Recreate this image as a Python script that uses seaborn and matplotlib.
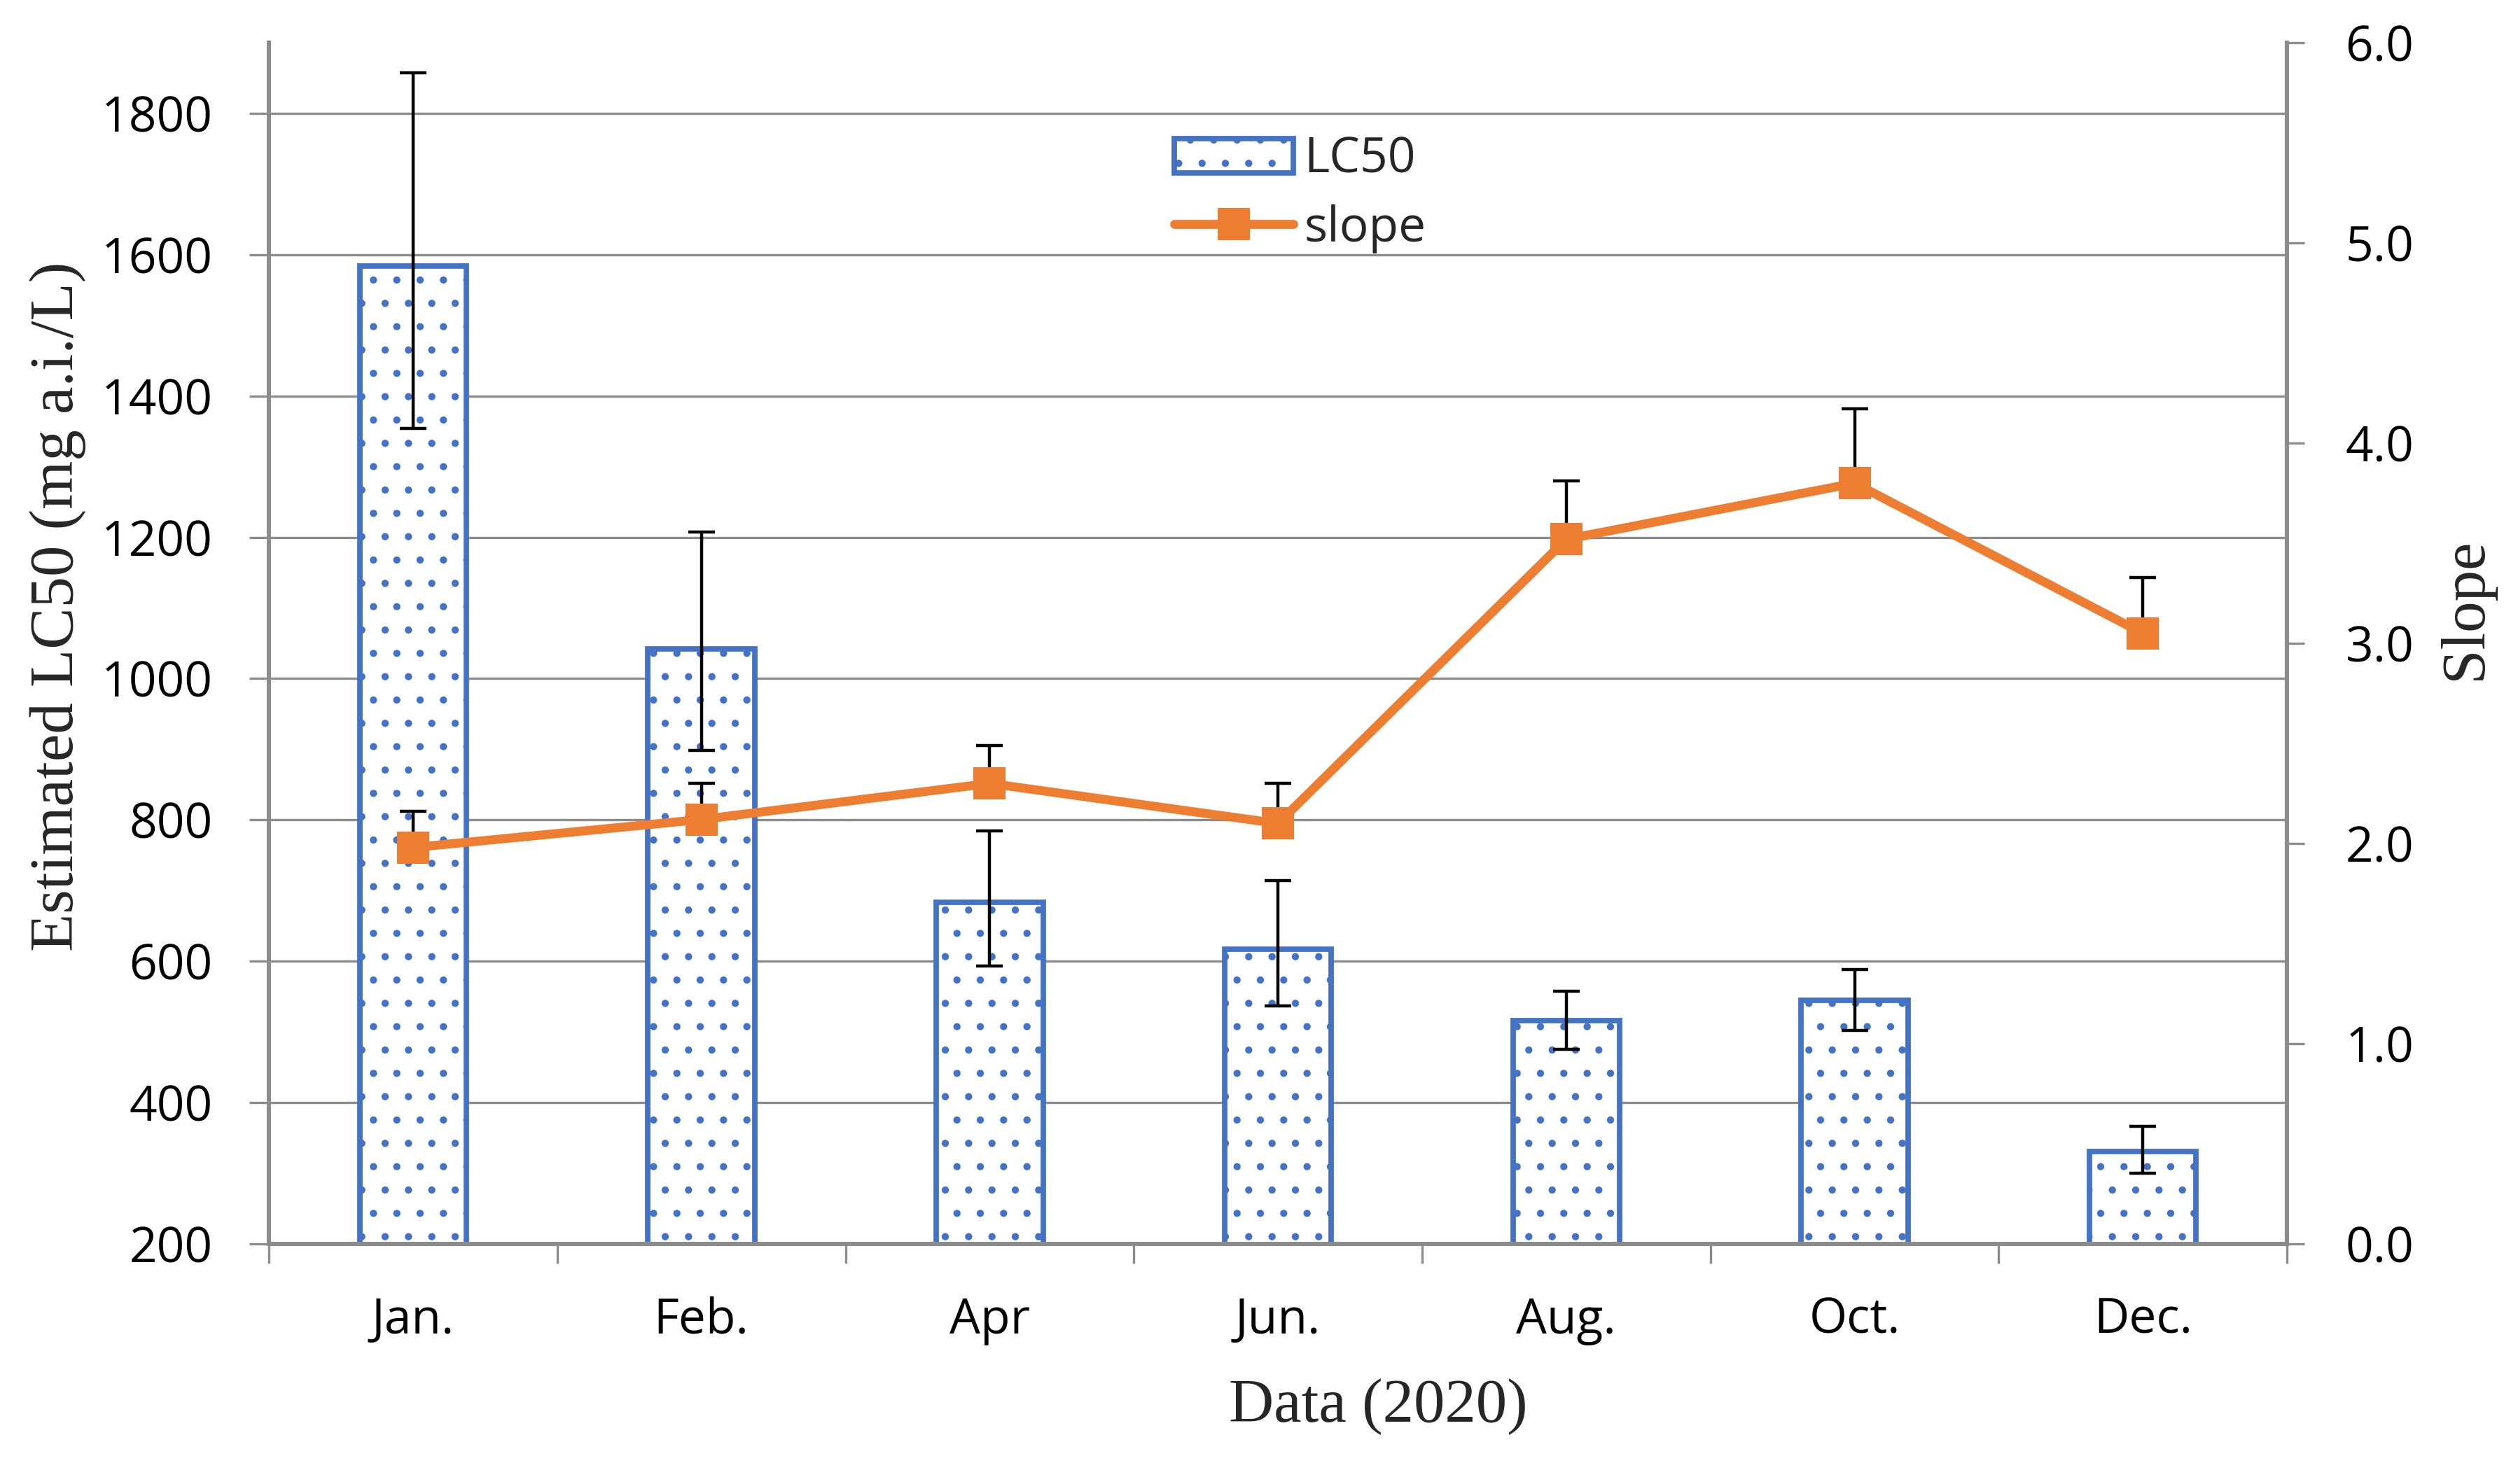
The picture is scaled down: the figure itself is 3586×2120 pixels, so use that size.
import numpy as np
import pandas as pd
import seaborn as sns
import matplotlib.pyplot as plt
from matplotlib.patches import Patch
from matplotlib.lines import Line2D

# values
months = ['Jan.', 'Feb.', 'Apr', 'Jun.', 'Aug.', 'Oct.', 'Dec.']
lc50 = [1584, 1042, 683, 617, 516, 545, 331]
lc50_low = [1354, 898, 593, 537, 475, 502, 300]
lc50_high = [1857, 1208, 785, 714, 558, 588, 366]
slope = [1.98, 2.12, 2.30, 2.10, 3.52, 3.80, 3.05]
slope_high = [2.16, 2.30, 2.49, 2.30, 3.81, 4.17, 3.33]

left_ticks = [200, 400, 600, 800, 1000, 1200, 1400, 1600, 1800]
right_ticks = [0, 1, 2, 3, 4, 5, 6]

BLUE = '#4472C4'
ORANGE = '#ED7D31'
GRAY = '#8C8C8C'

sns.set_theme(style='white')
plt.rcParams['font.family'] = ['Open Sans', 'DejaVu Sans']
plt.rcParams['hatch.linewidth'] = 1.3
SERIF = ['Liberation Serif', 'DejaVu Serif']

fig, ax = plt.subplots(figsize=(17.93, 10.6), dpi=200)
fig.subplots_adjust(left=0.1071, right=0.9108, bottom=0.1618, top=0.9712)

df = pd.DataFrame({'month': months, 'lc50': lc50})
x = np.arange(len(months))

# bars (LC50) on the left axis
sns.barplot(data=df, x='month', y='lc50', ax=ax, color='white', saturation=1,
            edgecolor=BLUE, linewidth=2.8, width=0.37, hatch='.', errorbar=None, zorder=2)
lc = np.array(lc50)
ax.errorbar(x, lc, yerr=[lc - np.array(lc50_low), np.array(lc50_high) - lc],
            fmt='none', ecolor='black', elinewidth=1.6, capsize=7, capthick=1.6, zorder=3)

ax.set_ylim(200, 1900)
ax.set_yticks(left_ticks)
ax.set_yticklabels([str(v) for v in left_ticks])
ax.yaxis.grid(True, color=GRAY, linewidth=1.2)
ax.set_axisbelow(True)
ax.set_xlim(-0.5, len(months) - 0.5)
ax.set_xticks(x)
ax.set_xticklabels(months)
ax.set_xticks(np.arange(-0.5, len(months), 1), minor=True)
ax.tick_params(axis='x', which='major', length=0, pad=27, labelsize=25, labelcolor='black')
ax.tick_params(axis='x', which='minor', length=10, width=1.2, color=GRAY, direction='out', bottom=True)
ax.tick_params(axis='y', length=10, width=1.2, color=GRAY, direction='out', pad=19,
               labelsize=25, labelcolor='black', left=True)
ax.set_xlabel('')
ax.set_ylabel('')

# slope line on the right axis
ax2 = ax.twinx()
sl = np.array(slope)
ax2.errorbar(x, sl, yerr=[np.zeros(len(sl)), np.array(slope_high) - sl],
             fmt='none', ecolor='black', elinewidth=1.6, capsize=7, capthick=1.6, zorder=2)
sns.lineplot(x=x, y=slope, ax=ax2, color=ORANGE, linewidth=4.6, marker='s',
             markersize=16.5, markeredgewidth=0, legend=False, zorder=3)
ax2.set_ylim(0, 6)
ax2.set_yticks(right_ticks)
ax2.set_yticklabels([f'{v:.1f}' for v in right_ticks])
ax2.tick_params(axis='y', length=9, width=1.2, color=GRAY, direction='out', pad=21,
                labelsize=25, labelcolor='black', right=True)
ax2.set_xlim(-0.5, len(months) - 0.5)
ax2.set_xlabel('')
ax2.set_ylabel('')

for a in (ax, ax2):
    for s in a.spines.values():
        s.set_visible(False)
ax.spines['left'].set_visible(True)
ax.spines['bottom'].set_visible(True)
ax2.spines['right'].set_visible(True)
for s in (ax.spines['left'], ax.spines['bottom'], ax2.spines['right']):
    s.set_color(GRAY)
    s.set_linewidth(2.2)

# axis titles
fig.text(0.0229, 0.5915, 'Estimated LC50 (mg a.i./L)', rotation=90, ha='center', va='center',
         fontsize=32, family=SERIF)
fig.text(0.982, 0.5896, 'Slope', rotation=90, ha='center', va='center', fontsize=32, family=SERIF)
fig.text(0.549, 0.052, 'Data (2020)', ha='center', va='center', fontsize=32, family=SERIF)

handles = [
    Patch(facecolor='white', edgecolor=BLUE, hatch='.', linewidth=2.8, label='LC50'),
    Line2D([0], [0], color=ORANGE, linewidth=4.6, marker='s', markersize=16.5,
           markeredgewidth=0, label='slope'),
]
ax2.legend(handles=handles, loc='upper left', bbox_to_anchor=(0.4487, 0.9226), frameon=False,
           fontsize=25, borderpad=0, borderaxespad=0, handlelength=2.45, handletextpad=0.22,
           labelspacing=0.4)

plt.savefig('out.png', dpi=200)
